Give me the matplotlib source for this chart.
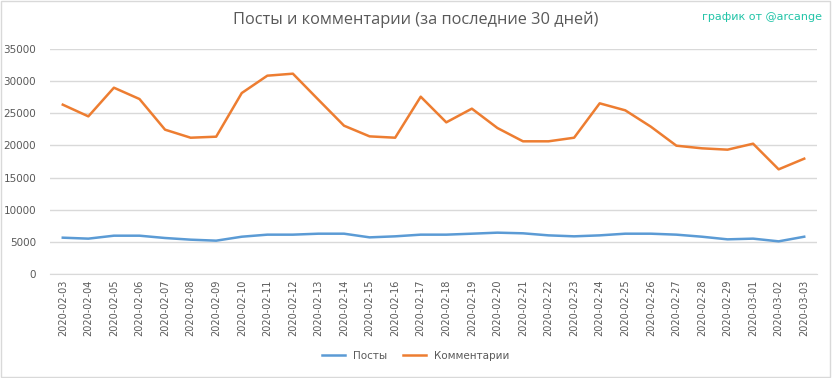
import matplotlib.pyplot as plt
from matplotlib.ticker import MultipleLocator

dates = ["2020-02-03", "2020-02-04", "2020-02-05", "2020-02-06", "2020-02-07",
         "2020-02-08", "2020-02-09", "2020-02-10", "2020-02-11", "2020-02-12",
         "2020-02-13", "2020-02-14", "2020-02-15", "2020-02-16", "2020-02-17",
         "2020-02-18", "2020-02-19", "2020-02-20", "2020-02-21", "2020-02-22",
         "2020-02-23", "2020-02-24", "2020-02-25", "2020-02-26", "2020-02-27",
         "2020-02-28", "2020-02-29", "2020-03-01", "2020-03-02", "2020-03-03"]

posts = [5650, 5500, 5960, 5960, 5600, 5340, 5185, 5800, 6120, 6120,
         6270, 6270, 5700, 5860, 6120, 6120, 6270, 6430, 6330, 6010,
         5860, 6010, 6270, 6270, 6120, 5800, 5390, 5500, 5080, 5800]

comments = [26340, 24520, 28980, 27220, 22450, 21200, 21360, 28150, 30850, 31160,
            27100, 23070, 21410, 21200, 27580, 23590, 25720, 22710, 20640, 20640,
            21200, 26550, 25460, 22920, 19960, 19550, 19340, 20270, 16280, 17940]

text_color = "#595959"
grid_color = "#D9D9D9"

fig = plt.figure(figsize=(8.32, 3.78), dpi=100)
ax = fig.add_axes([50 / 832, 1 - 274 / 378, 767 / 832, 225 / 378])

x = range(len(dates))
ax.plot(x, posts, color="#5B9BD5", linewidth=1.8, label="Посты")
ax.plot(x, comments, color="#ED7D31", linewidth=1.8, label="Комментарии")

ax.set_xlim(-0.5, len(dates) - 0.5)
ax.set_ylim(0, 35000)
ax.yaxis.set_major_locator(MultipleLocator(5000))
ax.grid(True, axis="y", color=grid_color, linewidth=1)
ax.set_axisbelow(True)
for side in ["top", "right", "left"]:
    ax.spines[side].set_visible(False)
ax.spines["bottom"].set_color(grid_color)

ax.set_xticks(list(x))
ax.set_xticklabels(dates, rotation=90, fontsize=7, color=text_color)
ax.tick_params(axis="x", length=0, pad=4)
ax.tick_params(axis="y", length=0, labelsize=7.5, labelcolor=text_color, pad=10)

fig.text(0.5, 1 - 20 / 378, "Посты и комментарии (за последние 30 дней)",
         ha="center", va="center", fontsize=11.8, color=text_color, family="Open Sans")
fig.text(822 / 832, 1 - 17 / 378, "график от @arcange", ha="right", va="center",
         fontsize=8, color="#22C4A8")

fig.legend(loc="center", bbox_to_anchor=(0.5, 1 - 356 / 378), ncol=2, frameon=False,
           fontsize=7.5, labelcolor=text_color, handlelength=2.2, columnspacing=1.5)

border = plt.Rectangle((0.001, 0.002), 0.997, 0.995, transform=fig.transFigure,
                       fill=False, edgecolor="#D9D9D9", linewidth=1)
fig.patches.append(border)

fig.savefig("out.png", dpi=100)
